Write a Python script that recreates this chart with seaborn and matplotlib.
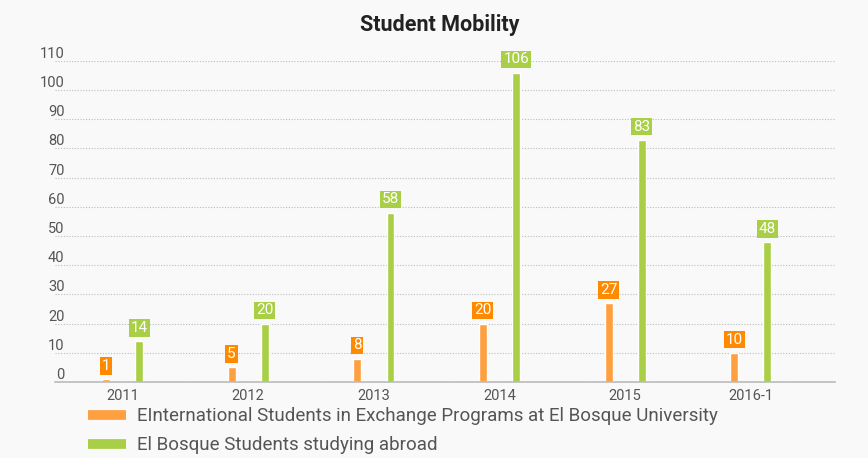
import pandas as pd
import numpy as np
import matplotlib
matplotlib.use("Agg")
import matplotlib.pyplot as plt
import seaborn as sns
from matplotlib.lines import Line2D

# data
years = ["2011", "2012", "2013", "2014", "2015", "2016-1"]
incoming = [1, 5, 8, 20, 27, 10]
outgoing = [14, 20, 58, 106, 83, 48]
series_names = ["EInternational Students in Exchange Programs at El Bosque University",
                "El Bosque Students studying abroad"]
yticks = list(range(0, 111, 10))

bar_colors = ["#FFA040", "#A8CF45"]
box_colors = ["#FF8A00", "#A8CF45"]
bg = "#F9F9F9"
txt = "#555555"

df = pd.DataFrame({
    "year": years * 2,
    "value": incoming + outgoing,
    "series": [series_names[0]] * len(years) + [series_names[1]] * len(years),
})

sns.set_style("white")
plt.rcParams["font.family"] = ["Roboto", "DejaVu Sans"]

fig = plt.figure(figsize=(8.68, 4.58), dpi=100, facecolor=bg)
ax = fig.add_axes([0.063, 0.166, 0.899, 0.701])
ax.set_facecolor(bg)

sns.barplot(data=df, x="year", y="value", hue="series", palette=bar_colors,
            width=0.53, gap=0.76, ax=ax, legend=False, saturation=1)

ax.set_xlim(-0.54, 5.67)
ax.set_ylim(0, 110)
ax.set_yticks(yticks)
ax.yaxis.grid(True, linestyle=(0, (1, 1.5)), color="#BBBBBB", linewidth=0.8)
ax.set_axisbelow(True)
for s in ["top", "right", "left"]:
    ax.spines[s].set_visible(False)
ax.spines["bottom"].set_color("#BBBBBB")
ax.spines["bottom"].set_linewidth(1.2)
ax.tick_params(axis="both", length=0, labelsize=10.5, labelcolor=txt)
ax.tick_params(axis="y", pad=-7)
for t in ax.get_yticklabels():
    t.set_va("bottom")
ax.tick_params(axis="x", pad=5)
ax.set_xlabel("")
ax.set_ylabel("")

# value label boxes
for i, cont in enumerate(ax.containers):
    for bar in cont:
        h = bar.get_height()
        ax.annotate(f"{int(h)}", (bar.get_x() + bar.get_width() / 2, h),
                    xytext=(0, 9.5), textcoords="offset points",
                    ha="center", va="center", color="white", fontsize=11,
                    bbox=dict(boxstyle="square,pad=0.12", fc=box_colors[i], ec="none"),
                    annotation_clip=False)

fig.suptitle("Student Mobility", x=0.507, y=0.97, fontsize=15.5,
             fontweight="bold", color="#222222")

handles = [Line2D([0], [0], color=c, lw=7, solid_capstyle="butt") for c in bar_colors]
leg = fig.legend(handles, series_names, loc="upper left", bbox_to_anchor=(0.082, 0.148),
                 bbox_transform=fig.transFigure, frameon=False, fontsize=13.5,
                 handlelength=2.0, handletextpad=0.6, labelspacing=0.6, labelcolor=txt)

fig.savefig("out.png", dpi=100, facecolor=bg)
